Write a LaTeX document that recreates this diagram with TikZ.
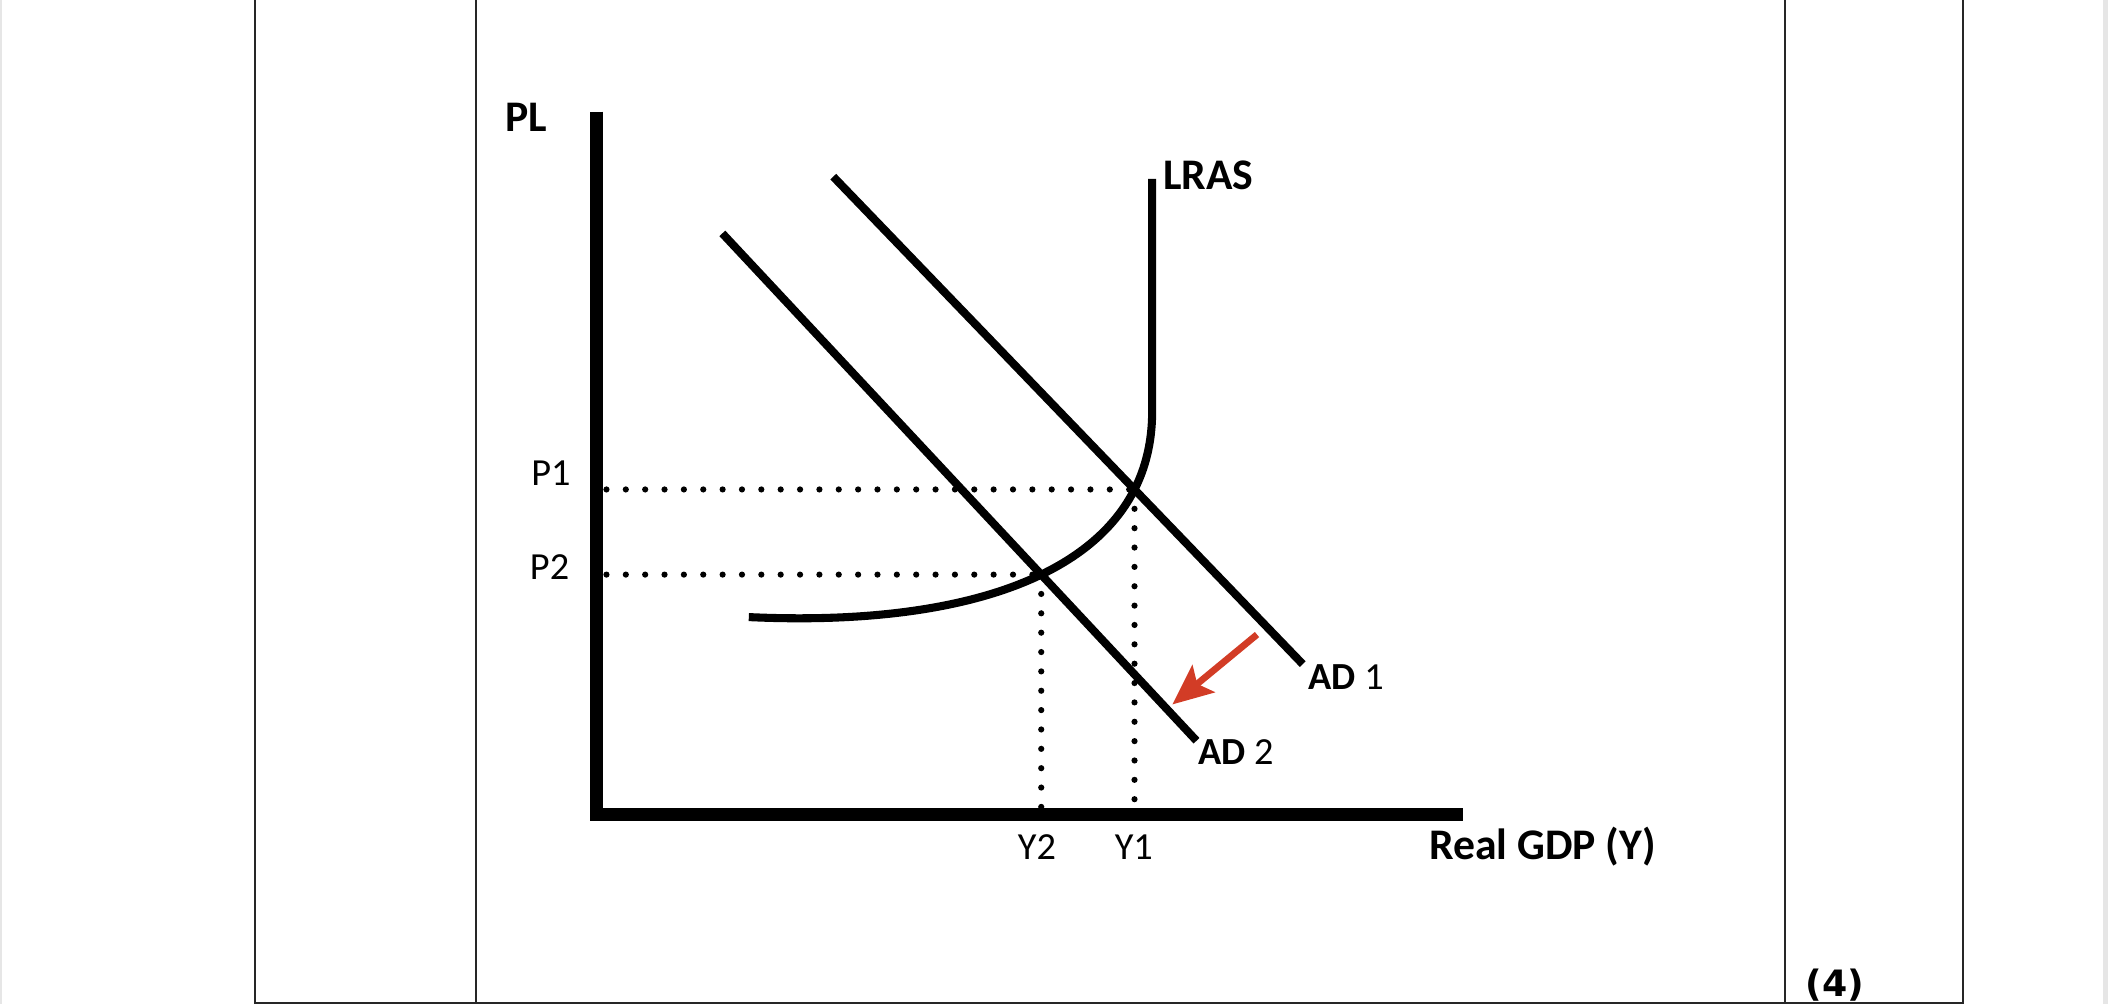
\documentclass[tikz,border=0pt]{standalone}
\usepackage{fontspec}
\setmainfont{Carlito}
\newfontfamily\markfont{DejaVu Sans}
\usetikzlibrary{intersections,calc,arrows.meta}
\definecolor{arrowred}{HTML}{D23C26}
\definecolor{edgegray}{HTML}{E6E6E6}
\begin{document}
\begin{tikzpicture}[x=1pt,y=-1pt,
  tableline/.style={line width=1.5pt,draw=black!85},
  axisline/.style={line width=9.5pt,line join=miter},
  curveline/.style={line width=6pt},
  dotline/.style={line width=4.6pt,dash pattern=on 0pt off 14.4pt,line cap=round},
  shiftarrow/.style={line width=5pt,draw=arrowred,-{Stealth[length=30pt,width=26pt,inset=6pt,fill=arrowred]}},
  lab/.style={inner sep=0pt,font=\fontsize{28.5}{34}\selectfont},
  blab/.style={inner sep=0pt,font=\fontsize{32.5}{38}\selectfont\bfseries}]
\useasboundingbox (0,0) rectangle (1568,747);
% page edges
\fill[edgegray] (0,0) rectangle (1.5,747);
\fill[edgegray] (1564.5,0) rectangle (1568,747);
% table
\draw[tableline] (190,0) -- (190,746) -- (1460,746) -- (1460,0);
\draw[tableline] (354,0) -- (354,746);
\draw[tableline] (1328,0) -- (1328,746);
% coordinates
\coordinate (origin) at (443.6,605.7);
\coordinate (ytop) at (443.6,83);
\coordinate (xend) at (1088.5,605.7);
\coordinate (ad1s) at (619.8,131.4);
\coordinate (ad1e) at (969,494);
\coordinate (ad2s) at (537.3,173.6);
\coordinate (ad2e) at (890,551);
\coordinate (lrastop) at (857,133);
\coordinate (lrasbend) at (857,306);
\coordinate (lrasend) at (557,459);
\coordinate (arrS) at (935,472);
\coordinate (arrT) at (872,524);
% curves (paths named for intersections)
\path[name path=lras] (lrastop) -- (lrasbend) .. controls (857,422) and (728,467) .. (lrasend);
\path[name path=ad1] (ad1s) -- (ad1e);
\path[name path=ad2] (ad2s) -- (ad2e);
\path[name intersections={of=lras and ad1,by=E1}];
\path[name intersections={of=lras and ad2,by=E2}];
% dotted guides
\draw[dotline] ($(E1 -| origin)+(7.5,0)$) -- (E1);
\draw[dotline] ($(E2 -| origin)+(7.5,0)$) -- (E2);
\draw[dotline] (E1) -- (E1 |- origin);
\draw[dotline] (E2) -- (E2 |- origin);
% axes
\draw[axisline] (ytop) -- (origin) -- (xend);
% curves
\draw[curveline] (lrastop) -- (lrasbend) .. controls (857,422) and (728,467) .. (lrasend);
\draw[curveline] (ad1s) -- (ad1e);
\draw[curveline] (ad2s) -- (ad2e);
% shift arrow
\draw[shiftarrow] (arrS) -- (arrT);
% labels
\node[blab,anchor=center] (pl) at (391.5,87) {PL};
\node[blab,anchor=base west] (lraslab) at (865,141) {LRAS};
\node[blab,anchor=base west] (gdp) at (1063,639) {Real GDP (Y)};
\node[lab,anchor=base west] (p1) at (395,361) {P1};
\node[lab,anchor=base west] (p2) at (394,431) {P2};
\node[lab,anchor=base west] (y2) at (757,639) {Y2};
\node[lab,anchor=base west] (y1) at (829,639) {Y1};
\node[lab,anchor=base west] (ad1lab) at (973,513) {\textbf{AD} 1};
\node[lab,anchor=base west] (ad2lab) at (891,569) {\textbf{AD} 2};
\node[inner sep=0pt,anchor=base west,font=\markfont\bfseries\fontsize{27}{31}\selectfont] (marks) at (1343,741) {(4)};
\end{tikzpicture}
\end{document}
